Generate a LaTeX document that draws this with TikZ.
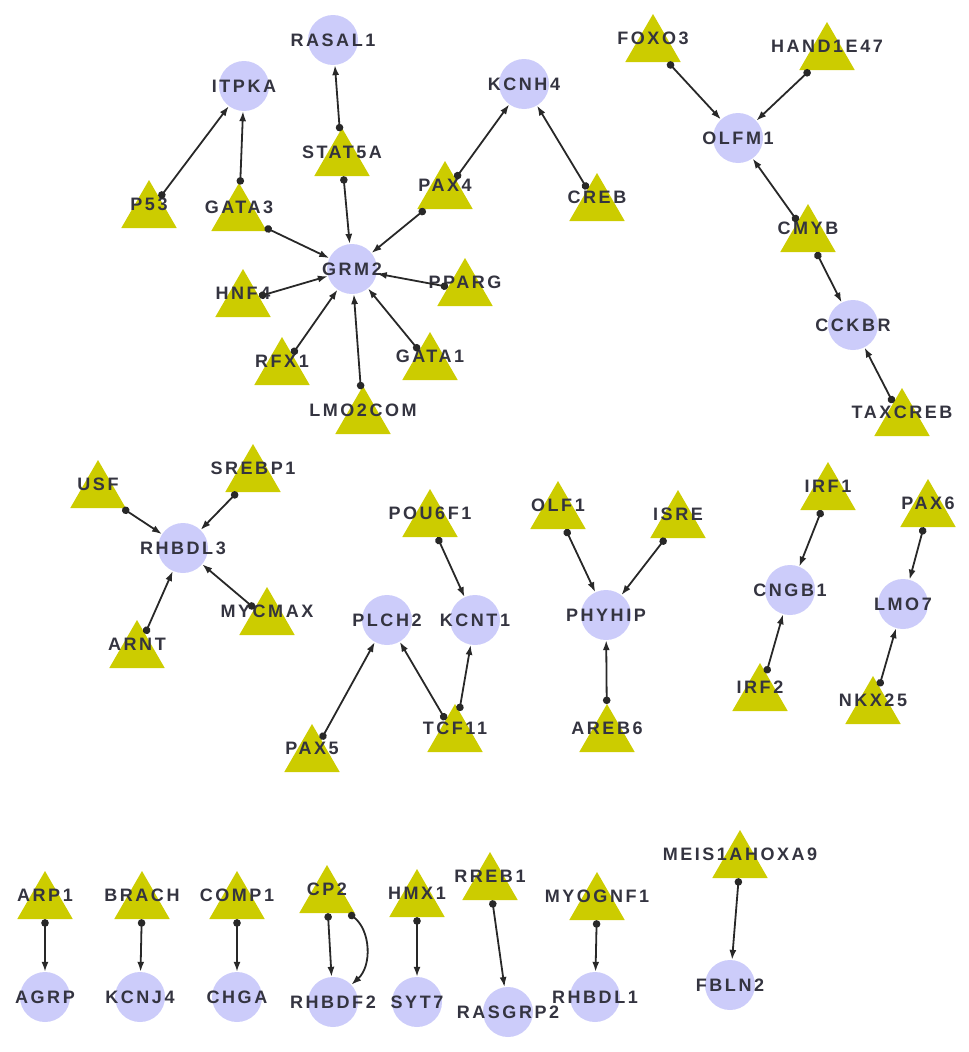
\documentclass[tikz,border=0pt]{standalone}
\usepackage{fontspec}
\newfontfamily\labfont{Liberation Sans}[LetterSpace=14]
\usetikzlibrary{shapes.geometric,arrows.meta}
\definecolor{circlecol}{RGB}{204,204,250}
\definecolor{tricol}{RGB}{204,204,0}
\definecolor{labcol}{RGB}{52,52,64}
\definecolor{edgecol}{RGB}{40,40,40}
\tikzset{
  circ/.style={circle, fill=circlecol, minimum size=50pt, inner sep=0pt},
  tri/.style={regular polygon, regular polygon sides=3, fill=tricol, minimum size=64pt, inner sep=0pt},
  lab/.style={font={\labfont\bfseries\fontsize{18}{20}\selectfont}, text=labcol, inner sep=0pt},
  tlab/.style={lab, yshift=8pt},
  link/.style={draw=edgecol, line width=1.8pt, {Circle[length=7.5pt]}-{Latex[length=10pt,width=7pt]}}
}
\begin{document}
\begin{tikzpicture}[x=1pt,y=-1pt]
\useasboundingbox (0,0) rectangle (969,1052);
% ---- circles (targets)
\node[circ] (RASAL1) at (333,40) {};
\node[circ] (ITPKA) at (244,86) {};
\node[circ] (GRM2) at (352,269) {};
\node[circ] (KCNH4) at (524,84) {};
\node[circ] (OLFM1) at (738,138) {};
\node[circ] (CCKBR) at (853,325) {};
\node[circ] (RHBDL3) at (183,548) {};
\node[circ] (PLCH2) at (387,620) {};
\node[circ] (KCNT1) at (475,620) {};
\node[circ] (PHYHIP) at (606,615) {};
\node[circ] (CNGB1) at (790,590) {};
\node[circ] (LMO7) at (903,604) {};
\node[circ] (AGRP) at (45,997) {};
\node[circ] (KCNJ4) at (140,997) {};
\node[circ] (CHGA) at (237,997) {};
\node[circ] (RHBDF2) at (333,1002) {};
\node[circ] (SYT7) at (417,1002) {};
\node[circ] (RASGRP2) at (508,1012) {};
\node[circ] (RHBDL1) at (595,997) {};
\node[circ] (FBLN2) at (730,985) {};
% ---- triangles (sources); centroid below box middle
\node[tri] (STAT5A) at (342,152+8) {};
\node[tri] (P53) at (149,204+8) {};
\node[tri] (GATA3) at (239,207+8) {};
\node[tri] (PAX4) at (445,185+8) {};
\node[tri] (HNF4) at (243,293+8) {};
\node[tri] (PPARG) at (465,282+8) {};
\node[tri] (RFX1) at (282,361+8) {};
\node[tri] (GATA1) at (430,356+8) {};
\node[tri] (LMO2COM) at (363,410+8) {};
\node[tri] (CREB) at (597,197+8) {};
\node[tri] (FOXO3) at (653,38+8) {};
\node[tri] (HAND1E47) at (827,46+8) {};
\node[tri] (CMYB) at (808,228+8) {};
\node[tri] (TAXCREB) at (902,412+8) {};
\node[tri] (USF) at (98,484+8) {};
\node[tri] (SREBP1) at (253,468+8) {};
\node[tri] (ARNT) at (137,644+8) {};
\node[tri] (MYCMAX) at (267,611+8) {};
\node[tri] (POU6F1) at (430,513+8) {};
\node[tri] (PAX5) at (312,748+8) {};
\node[tri] (TCF11) at (455,728+8) {};
\node[tri] (OLF1) at (558,505+8) {};
\node[tri] (ISRE) at (678,514+8) {};
\node[tri] (AREB6) at (607,728+8) {};
\node[tri] (IRF1) at (828,486+8) {};
\node[tri] (PAX6) at (928,503+8) {};
\node[tri] (IRF2) at (760,687+8) {};
\node[tri] (NKX25) at (873,700+8) {};
\node[tri] (ARP1) at (45,895+8) {};
\node[tri] (BRACH) at (142,895+8) {};
\node[tri] (COMP1) at (237,895+8) {};
\node[tri] (CP2) at (327,889+8) {};
\node[tri] (HMX1) at (417,893+8) {};
\node[tri] (RREB1) at (490,876+8) {};
\node[tri] (MYOGNF1) at (597,896+8) {};
\node[tri] (MEIS1AHOXA9) at (740,854+8) {};
% ---- labels
\foreach \n in {RASAL1,ITPKA,GRM2,KCNH4,OLFM1,CCKBR,RHBDL3,PLCH2,KCNT1,PHYHIP,CNGB1,LMO7,AGRP,KCNJ4,CHGA,RHBDF2,SYT7,RASGRP2,RHBDL1,FBLN2}
  \node[lab] (\n-t) at (\n) {\n};
\foreach \n in {STAT5A,P53,GATA3,PAX4,HNF4,PPARG,RFX1,GATA1,LMO2COM,CREB,FOXO3,HAND1E47,CMYB,TAXCREB,USF,SREBP1,ARNT,MYCMAX,POU6F1,PAX5,TCF11,OLF1,ISRE,AREB6,IRF1,PAX6,IRF2,NKX25,ARP1,BRACH,COMP1,CP2,HMX1,RREB1,MYOGNF1,MEIS1AHOXA9}
  \node[tlab] (\n-t) at (\n) {\n};
% ---- connectors
\foreach \s/\t in {P53/ITPKA,GATA3/ITPKA,STAT5A/RASAL1,STAT5A/GRM2,PAX4/KCNH4,PAX4/GRM2,CREB/KCNH4,GATA3/GRM2,HNF4/GRM2,PPARG/GRM2,RFX1/GRM2,GATA1/GRM2,LMO2COM/GRM2,FOXO3/OLFM1,HAND1E47/OLFM1,CMYB/OLFM1,CMYB/CCKBR,TAXCREB/CCKBR,USF/RHBDL3,SREBP1/RHBDL3,ARNT/RHBDL3,MYCMAX/RHBDL3,POU6F1/KCNT1,PAX5/PLCH2,TCF11/PLCH2,TCF11/KCNT1,OLF1/PHYHIP,ISRE/PHYHIP,AREB6/PHYHIP,IRF1/CNGB1,IRF2/CNGB1,PAX6/LMO7,NKX25/LMO7,ARP1/AGRP,BRACH/KCNJ4,COMP1/CHGA,CP2/RHBDF2,HMX1/SYT7,RREB1/RASGRP2,MYOGNF1/RHBDL1,MEIS1AHOXA9/FBLN2}
  \draw[link] (\s) -- (\t);
\draw[link] (CP2) to[bend left=50] (RHBDF2);
\end{tikzpicture}
\end{document}
